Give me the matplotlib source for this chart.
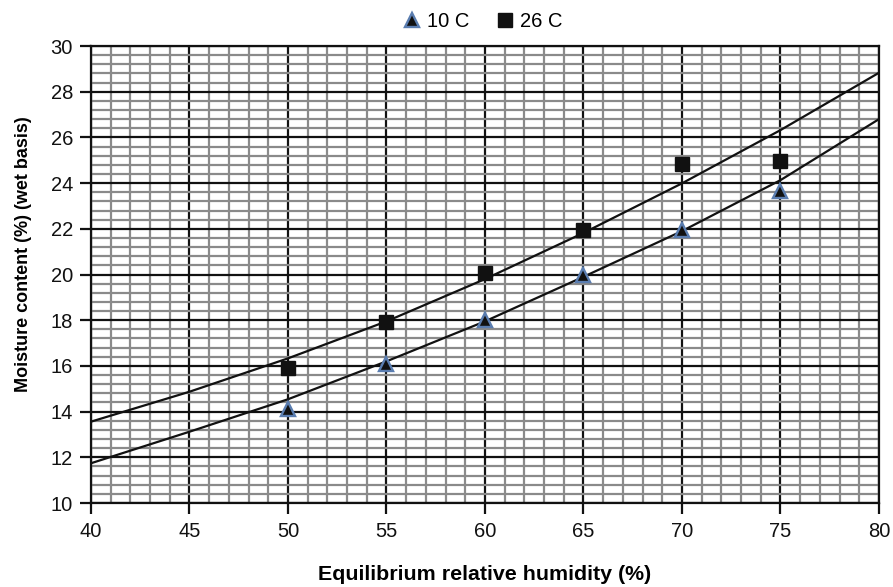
import numpy as np
import matplotlib.pyplot as plt
from matplotlib.ticker import MultipleLocator

plt.rcParams['font.family'] = ['Liberation Sans', 'DejaVu Sans']

# measured points
rh = [50, 55, 60, 65, 70, 75]
mc_10 = [14.1, 16.1, 18.0, 20.0, 21.95, 23.65]
mc_26 = [15.9, 17.9, 20.05, 21.95, 24.85, 24.95]

# fitted curves
fit_x = [40, 45, 50, 55, 60, 65, 70, 75, 80]
fit_10 = [11.74, 13.12, 14.54, 16.2, 17.95, 19.9, 21.9, 24.13, 26.8]
fit_26 = [13.56, 14.87, 16.33, 17.95, 19.8, 21.82, 23.99, 26.32, 28.83]

fig = plt.figure(figsize=(8.93, 5.87), dpi=100)
ax = fig.add_axes([0.1019, 0.1431, 0.9843 - 0.1019, 0.9216 - 0.1431])

ax.set_xlim(40, 80)
ax.set_ylim(10, 30)
ax.xaxis.set_major_locator(MultipleLocator(5))
ax.xaxis.set_minor_locator(MultipleLocator(1))
ax.yaxis.set_major_locator(MultipleLocator(2))
ax.yaxis.set_minor_locator(MultipleLocator(0.4))

# graph-paper grid
ax.grid(which='minor', color='#8a8a8a', lw=1.6, zorder=0)
ax.grid(which='major', color='#111111', lw=1.6, zorder=1)
ax.set_axisbelow(True)

ax.plot(fit_x, fit_10, color='#111111', lw=1.6, zorder=3)
ax.plot(fit_x, fit_26, color='#111111', lw=1.6, zorder=3)

ax.plot(rh, mc_10, ls='none', marker='^', ms=9.5, mfc='#111111', mec='#5a7db0',
        mew=1.7, zorder=4, label='10 C')
ax.plot(rh, mc_26, ls='none', marker='s', ms=10, mfc='#111111', mec='#111111',
        zorder=4, label='26 C')

for s in ax.spines.values():
    s.set_linewidth(1.6)
    s.set_color('#111111')

ax.tick_params(axis='x', which='major', pad=6)
ax.tick_params(axis='y', which='major', pad=5)
ax.tick_params(which='major', direction='out', length=8, width=1.6,
               labelsize=14.5, colors='#111111')
ax.tick_params(which='minor', length=0)

ax.set_xlabel('Equilibrium relative humidity (%)', fontsize=15.4,
              fontweight='bold', labelpad=17)
ax.set_ylabel('Moisture content (%) (wet basis)', fontsize=13,
              fontweight='bold')
ax.yaxis.set_label_coords(-0.0755, 0.545)

fig.legend(loc='upper center', bbox_to_anchor=(0.54, 1.01), ncol=2,
           frameon=False, fontsize=14.5, handletextpad=0.25,
           columnspacing=1.3, handlelength=1.0)

fig.savefig('out.png', dpi=100)
